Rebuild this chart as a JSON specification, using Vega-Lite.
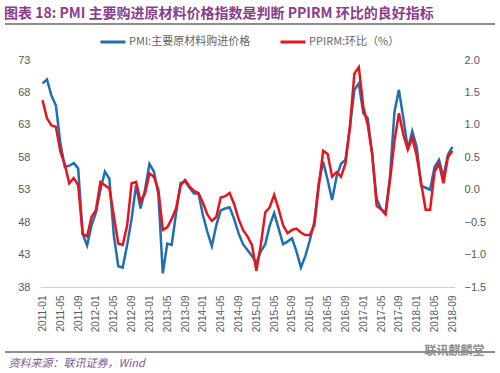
{
  "$schema": "https://vega.github.io/schema/vega-lite/v6.json",
  "width": 490,
  "height": 328,
  "autosize": {"type": "none"},
  "padding": {"left": 5, "top": 24, "right": 5, "bottom": 21},
  "background": "white",
  "config": {
    "view": {"stroke": "#8c8c8c", "strokeWidth": 1.8, "strokeDash": [490, 328]},
    "font": "Noto Sans CJK SC"
  },
  "title": {
    "text": "图表 18: PMI 主要购进原材料价格指数是判断 PPIRM 环比的良好指标",
    "anchor": "start", "frame": "group", "dx": -1, "offset": 3,
    "fontSize": 14, "fontWeight": "bold", "color": "#8a3d8c", "font": "Noto Sans CJK SC"
  },
  "data": {"values": [
    {"m":"2011-01","pmi":69.4,"ppirm":1.38},{"m":"2011-02","pmi":70.0,"ppirm":1.10},{"m":"2011-03","pmi":67.5,"ppirm":0.99},{"m":"2011-04","pmi":66.0,"ppirm":0.97},
    {"m":"2011-05","pmi":60.2,"ppirm":0.59},{"m":"2011-06","pmi":56.5,"ppirm":0.39},{"m":"2011-07","pmi":56.7,"ppirm":0.10},{"m":"2011-08","pmi":57.1,"ppirm":0.18},
    {"m":"2011-09","pmi":56.3,"ppirm":0.07},{"m":"2011-10","pmi":46.2,"ppirm":-0.68},{"m":"2011-11","pmi":44.4,"ppirm":-0.72},{"m":"2011-12","pmi":47.5,"ppirm":-0.42},
    {"m":"2012-01","pmi":49.5,"ppirm":-0.31},{"m":"2012-02","pmi":53.0,"ppirm":0.12},{"m":"2012-03","pmi":55.8,"ppirm":0.07},{"m":"2012-04","pmi":54.7,"ppirm":0.02},
    {"m":"2012-05","pmi":46.0,"ppirm":-0.40},{"m":"2012-06","pmi":41.2,"ppirm":-0.83},{"m":"2012-07","pmi":41.0,"ppirm":-0.85},{"m":"2012-08","pmi":44.5,"ppirm":-0.55},
    {"m":"2012-09","pmi":48.5,"ppirm":0.10},{"m":"2012-10","pmi":53.7,"ppirm":0.12},{"m":"2012-11","pmi":50.1,"ppirm":-0.18},{"m":"2012-12","pmi":53.0,"ppirm":-0.06},
    {"m":"2013-01","pmi":57.0,"ppirm":0.25},{"m":"2013-02","pmi":55.8,"ppirm":0.20},{"m":"2013-03","pmi":52.3,"ppirm":0.00},{"m":"2013-04","pmi":40.1,"ppirm":-0.62},
    {"m":"2013-05","pmi":44.7,"ppirm":-0.58},{"m":"2013-06","pmi":44.5,"ppirm":-0.45},{"m":"2013-07","pmi":49.5,"ppirm":-0.28},{"m":"2013-08","pmi":54.0,"ppirm":0.07},
    {"m":"2013-09","pmi":54.3,"ppirm":0.15},{"m":"2013-10","pmi":53.3,"ppirm":0.05},{"m":"2013-11","pmi":52.4,"ppirm":-0.02},{"m":"2013-12","pmi":52.4,"ppirm":-0.05},
    {"m":"2014-01","pmi":49.1,"ppirm":-0.20},{"m":"2014-02","pmi":46.5,"ppirm":-0.38},{"m":"2014-03","pmi":44.3,"ppirm":-0.48},{"m":"2014-04","pmi":47.5,"ppirm":-0.42},
    {"m":"2014-05","pmi":49.8,"ppirm":-0.12},{"m":"2014-06","pmi":50.1,"ppirm":-0.10},{"m":"2014-07","pmi":50.3,"ppirm":-0.05},{"m":"2014-08","pmi":48.5,"ppirm":-0.22},
    {"m":"2014-09","pmi":46.3,"ppirm":-0.45},{"m":"2014-10","pmi":44.6,"ppirm":-0.62},{"m":"2014-11","pmi":43.7,"ppirm":-0.72},{"m":"2014-12","pmi":42.8,"ppirm":-0.85},
    {"m":"2015-01","pmi":41.7,"ppirm":-1.25},{"m":"2015-02","pmi":43.5,"ppirm":-0.85},{"m":"2015-03","pmi":44.6,"ppirm":-0.35},{"m":"2015-04","pmi":47.5,"ppirm":-0.27},
    {"m":"2015-05","pmi":49.4,"ppirm":-0.08},{"m":"2015-06","pmi":47.0,"ppirm":-0.30},{"m":"2015-07","pmi":44.6,"ppirm":-0.55},{"m":"2015-08","pmi":45.0,"ppirm":-0.67},
    {"m":"2015-09","pmi":45.5,"ppirm":-0.62},{"m":"2015-10","pmi":43.5,"ppirm":-0.60},{"m":"2015-11","pmi":41.0,"ppirm":-0.66},{"m":"2015-12","pmi":42.8,"ppirm":-0.70},
    {"m":"2016-01","pmi":45.2,"ppirm":-0.70},{"m":"2016-02","pmi":48.0,"ppirm":-0.55},{"m":"2016-03","pmi":54.0,"ppirm":0.05},{"m":"2016-04","pmi":57.3,"ppirm":0.60},
    {"m":"2016-05","pmi":54.5,"ppirm":0.55},{"m":"2016-06","pmi":51.4,"ppirm":0.20},{"m":"2016-07","pmi":55.0,"ppirm":0.27},{"m":"2016-08","pmi":57.0,"ppirm":0.20},
    {"m":"2016-09","pmi":57.6,"ppirm":0.40},{"m":"2016-10","pmi":62.6,"ppirm":0.97},{"m":"2016-11","pmi":68.4,"ppirm":1.79},{"m":"2016-12","pmi":69.4,"ppirm":1.89},
    {"m":"2017-01","pmi":64.8,"ppirm":1.28},{"m":"2017-02","pmi":64.0,"ppirm":1.00},{"m":"2017-03","pmi":58.5,"ppirm":0.55},{"m":"2017-04","pmi":51.6,"ppirm":-0.25},
    {"m":"2017-05","pmi":50.0,"ppirm":-0.30},{"m":"2017-06","pmi":49.5,"ppirm":-0.38},{"m":"2017-07","pmi":55.0,"ppirm":0.15},{"m":"2017-08","pmi":65.0,"ppirm":0.75},
    {"m":"2017-09","pmi":68.4,"ppirm":1.18},{"m":"2017-10","pmi":64.0,"ppirm":0.85},{"m":"2017-11","pmi":59.3,"ppirm":0.62},{"m":"2017-12","pmi":62.0,"ppirm":0.80},
    {"m":"2018-01","pmi":59.6,"ppirm":0.52},{"m":"2018-02","pmi":53.6,"ppirm":0.10},{"m":"2018-03","pmi":53.3,"ppirm":-0.31},{"m":"2018-04","pmi":53.0,"ppirm":-0.31},
    {"m":"2018-05","pmi":56.5,"ppirm":0.28},{"m":"2018-06","pmi":57.6,"ppirm":0.40},{"m":"2018-07","pmi":55.0,"ppirm":0.10},{"m":"2018-08","pmi":58.4,"ppirm":0.50},
    {"m":"2018-09","pmi":59.6,"ppirm":0.60}
  ]},
  "encoding": {
    "x": {
      "field": "m", "type": "ordinal", "sort": null,
      "scale": {"type": "point", "padding": 0.5, "range": [35.3, 449.6]},
      "axis": {
        "values": ["2011-01","2011-05","2011-09","2012-01","2012-05","2012-09","2013-01","2013-05","2013-09","2014-01","2014-05","2014-09","2015-01","2015-05","2015-09","2016-01","2016-05","2016-09","2017-01","2017-05","2017-09","2018-01","2018-05","2018-09"],
        "offset": -65,
        "labelAngle": -90, "labelAlign": "right", "labelBaseline": "middle", "labelPadding": 8,
        "labelFont": "Liberation Sans", "labelFontSize": 10, "labelColor": "#595959",
        "ticks": false, "grid": false, "domainColor": "#cfcfcf", "domainWidth": 1.2,
        "title": "资料来源：联讯证券，Wind", "titleX": 3, "titleY": 76, "titleAlign": "left", "titleBaseline": "middle",
        "titleFontStyle": "italic", "titleFontWeight": "normal", "titleFontSize": 11, "titleColor": "#7d5a8f", "titleFont": "Noto Sans CJK SC"
      }
    }
  },
  "layer": [
    {
      "mark": {"type": "line", "strokeWidth": 2.5},
      "encoding": {
        "y": {
          "field": "pmi", "type": "quantitative",
          "scale": {"domain": [38, 73], "nice": false, "zero": false, "range": [263, 36]},
          "axis": {"values": [38,43,48,53,58,63,68,73], "offset": -35, "title": null, "domain": false, "ticks": false, "grid": false,
                   "labelPadding": 10, "labelFont": "Liberation Sans", "labelFontSize": 11, "labelColor": "#595959"}
        },
        "color": {
          "datum": "PMI:主要原材料购进价格", "type": "nominal",
          "scale": {"domain": ["PMI:主要原材料购进价格", "PPIRM:环比（%）"], "range": ["#1f6fb2", "#e8141c"]},
          "legend": {
            "title": null, "orient": "none", "legendX": 94, "legendY": 4, "direction": "horizontal",
            "symbolType": "stroke", "symbolSize": 625, "symbolStrokeWidth": 3, "columnPadding": 23,
            "labelFont": "Noto Sans CJK SC", "labelFontSize": 11, "labelColor": "#666666", "labelOffset": 2
          }
        }
      }
    },
    {
      "mark": {"type": "line", "strokeWidth": 2.5},
      "encoding": {
        "y": {
          "field": "ppirm", "type": "quantitative",
          "scale": {"domain": [-1.5, 2.0], "nice": false, "zero": false, "range": [263, 36]},
          "axis": {"orient": "right", "offset": -41, "values": [-1.5,-1,-0.5,0,0.5,1,1.5,2], "format": ".1f", "domain": false, "ticks": false, "grid": false,
                   "labelPadding": 10, "labelFont": "Liberation Sans", "labelFontSize": 11, "labelColor": "#595959",
                   "title": "联讯麒麟堂", "titleAngle": 0, "titleX": 0, "titleY": 326, "titleAlign": "center", "titleBaseline": "middle",
                   "titleFontSize": 12, "titleFontWeight": "bold", "titleColor": "#8c8c8c", "titleFont": "Noto Sans CJK SC"}
        },
        "color": {"datum": "PPIRM:环比（%）", "type": "nominal"}
      }
    }
  ],
  "resolve": {"scale": {"y": "independent"}, "axis": {"y": "independent"}}
}
